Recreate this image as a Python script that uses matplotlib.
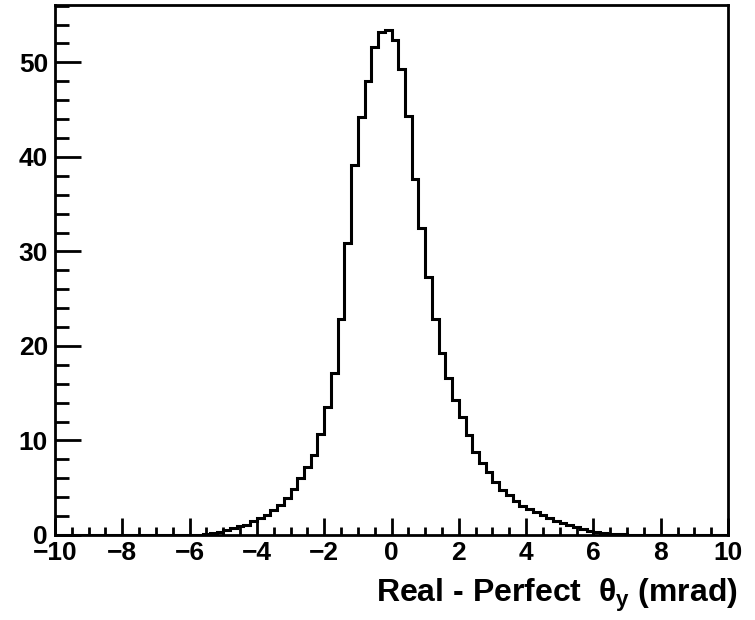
import numpy as np
import matplotlib
matplotlib.use("Agg")
import matplotlib.pyplot as plt
from matplotlib.ticker import MultipleLocator

plt.rcParams['font.family'] = ['Liberation Sans', 'DejaVu Sans']
plt.rcParams['font.weight'] = 'bold'
plt.rcParams['mathtext.fontset'] = 'custom'
plt.rcParams['mathtext.rm'] = 'Liberation Sans'
plt.rcParams['mathtext.it'] = 'Liberation Sans'
plt.rcParams['mathtext.bf'] = 'Liberation Sans:bold'

# histogram: 100 bins from -10 to 10 mrad
x_min, x_max, n_bins = -10, 10, 100
counts_left = [0.0] * 20 + [
    0.02, 0.05, 0.1, 0.2, 0.35, 0.5, 0.7, 0.9, 1.1, 1.5,
    1.8, 2.1, 2.6, 3.2, 3.9, 4.9, 6.0, 7.2, 8.5, 10.7,
    13.5, 17.1, 22.9, 30.9, 39.1, 44.2, 48.0, 51.6, 53.2, 53.4,
]
counts_right = [
    52.4, 49.3, 44.3, 37.7, 32.5, 27.3, 22.9, 19.3, 16.6, 14.3,
    12.5, 10.6, 8.8, 7.6, 6.7, 5.6, 4.8, 4.2, 3.6, 3.1,
    2.7, 2.4, 2.1, 1.8, 1.5, 1.25, 1.05, 0.8, 0.6, 0.45,
    0.3, 0.22, 0.15, 0.1, 0.08, 0.05, 0.04, 0.02,
] + [0.0] * 12
counts = np.array(counts_left + counts_right)
edges = np.linspace(x_min, x_max, n_bins + 1)

xlabel = r"Real - Perfect  $\theta_{y}$ (mrad)"

fig = plt.figure(figsize=(7.55, 6.2), dpi=100)
ax = fig.add_axes([55 / 755, 1 - 535 / 620, 673 / 755, 530 / 620])

ax.stairs(counts, edges, color='black', linewidth=2.2)

ax.set_xlim(x_min, x_max)
ax.set_ylim(0, 1.05 * counts.max())

ax.xaxis.set_major_locator(MultipleLocator(2))
ax.xaxis.set_minor_locator(MultipleLocator(0.5))
ax.yaxis.set_major_locator(MultipleLocator(10))
ax.yaxis.set_minor_locator(MultipleLocator(2))

ax.tick_params(axis='both', which='both', direction='in', top=False, right=False,
               width=2, labelsize=19)
ax.tick_params(axis='x', which='major', length=12, pad=4)
ax.tick_params(axis='x', which='minor', length=6)
ax.tick_params(axis='y', which='major', length=19, pad=5)
ax.tick_params(axis='y', which='minor', length=10)

for s in ax.spines.values():
    s.set_linewidth(2)

ax.set_xlabel(xlabel, fontsize=23, fontweight='bold', loc='right', labelpad=9)
ax.xaxis.label.set_x(1.015)

fig.savefig("out.png", dpi=100)
